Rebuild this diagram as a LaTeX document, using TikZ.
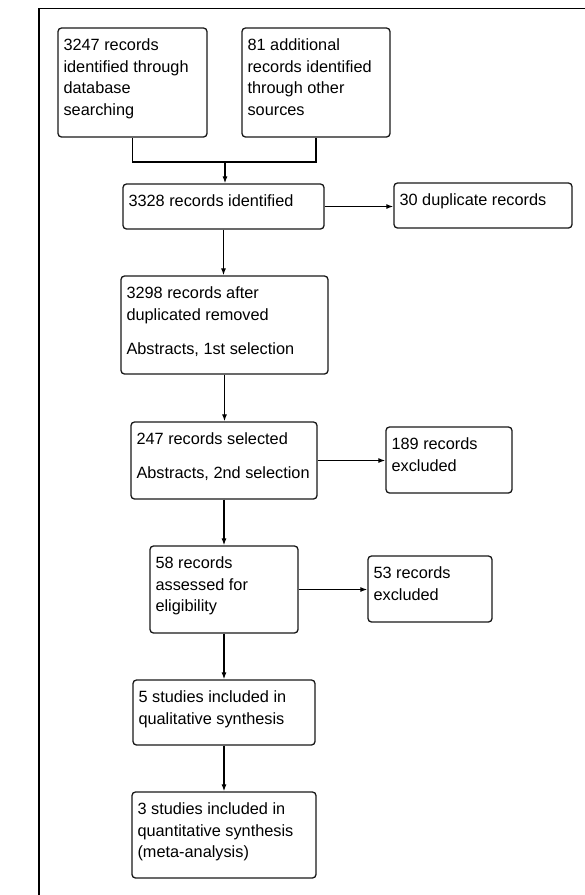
\documentclass[tikz,border=0pt]{standalone}
\usepackage{fontspec}
\setmainfont{Liberation Sans}
\usetikzlibrary{arrows.meta,calc}
\begin{document}
\begin{tikzpicture}[x=1pt,y=-1pt,
  box/.style={draw=black!90, line width=1.3pt, rounded corners=3.5pt, inner sep=0pt},
  txt/.style={anchor=north west, inner sep=0pt, align=left, font=\fontsize{16.3}{21.7}\selectfont},
  arr/.style={line width=1.2pt, -{Latex[length=7pt,width=5pt]}},
  ln/.style={line width=1.2pt}]
\useasboundingbox (0,0) rectangle (585,895);
\draw[line width=1.5pt] (585,8.5) -- (39,8.5) -- (39,895);
\newcommand{\mkbox}[5]{\node[box, minimum width=#3-#1, minimum height=#4-#2] (#5) at ({(#1+#3)/2},{(#2+#4)/2}) {};}
\mkbox{58}{28}{207}{137}{A}
\mkbox{242}{28}{390}{137}{B}
\mkbox{123}{184}{324}{229}{C}
\mkbox{394}{183}{572}{228}{D}
\mkbox{121}{276}{328}{374}{E}
\mkbox{131}{422}{317}{499}{F}
\mkbox{386}{427}{512}{493}{G}
\mkbox{150}{546}{298}{633}{H}
\mkbox{368}{556}{492}{622}{I}
\mkbox{133}{680}{315}{745}{J}
\mkbox{132}{792}{316}{878}{K}
\newcommand{\tx}[3]{\node[txt] (t#1) at ([xshift=6pt,yshift=-10pt]#1.north west) {\rule{0pt}{13pt}#2};}
\tx{A}{3247 records\\identified through\\database\\searching}{}
\tx{B}{81 additional\\records identified\\through other\\sources}{}
\tx{C}{3328 records identified}{}
\tx{D}{30 duplicate records}{}
\tx{E}{3298 records after\\duplicated removed\\[12.3pt]Abstracts, 1st selection}{}
\tx{F}{247 records selected\\[12.3pt]Abstracts, 2nd selection}{}
\tx{G}{189 records\\excluded}{}
\tx{H}{58 records\\assessed for\\eligibility}{}
\tx{I}{53 records\\excluded}{}
\tx{J}{5 studies included in\\qualitative synthesis}{}
\tx{K}{3 studies included in\\quantitative synthesis\\(meta-analysis)}{}
\coordinate (j) at (225,162);
\draw[ln] (A.south) |- (j) -| (B.south);
\draw[arr] (j) -- (j |- C.north);
\draw[arr] (C.east) -- (C.east -| D.west);
\draw[arr] (C.south) -- (C.south |- E.north);
\draw[arr] (E.south) -- (E.south |- F.north);
\draw[arr] (F.east) -- (F.east -| G.west);
\draw[arr] (F.south) -- (F.south |- H.north);
\draw[arr] (H.east) -- (H.east -| I.west);
\draw[arr] (H.south) -- (H.south |- J.north);
\draw[arr] (J.south) -- (J.south |- K.north);
\end{tikzpicture}
\end{document}
